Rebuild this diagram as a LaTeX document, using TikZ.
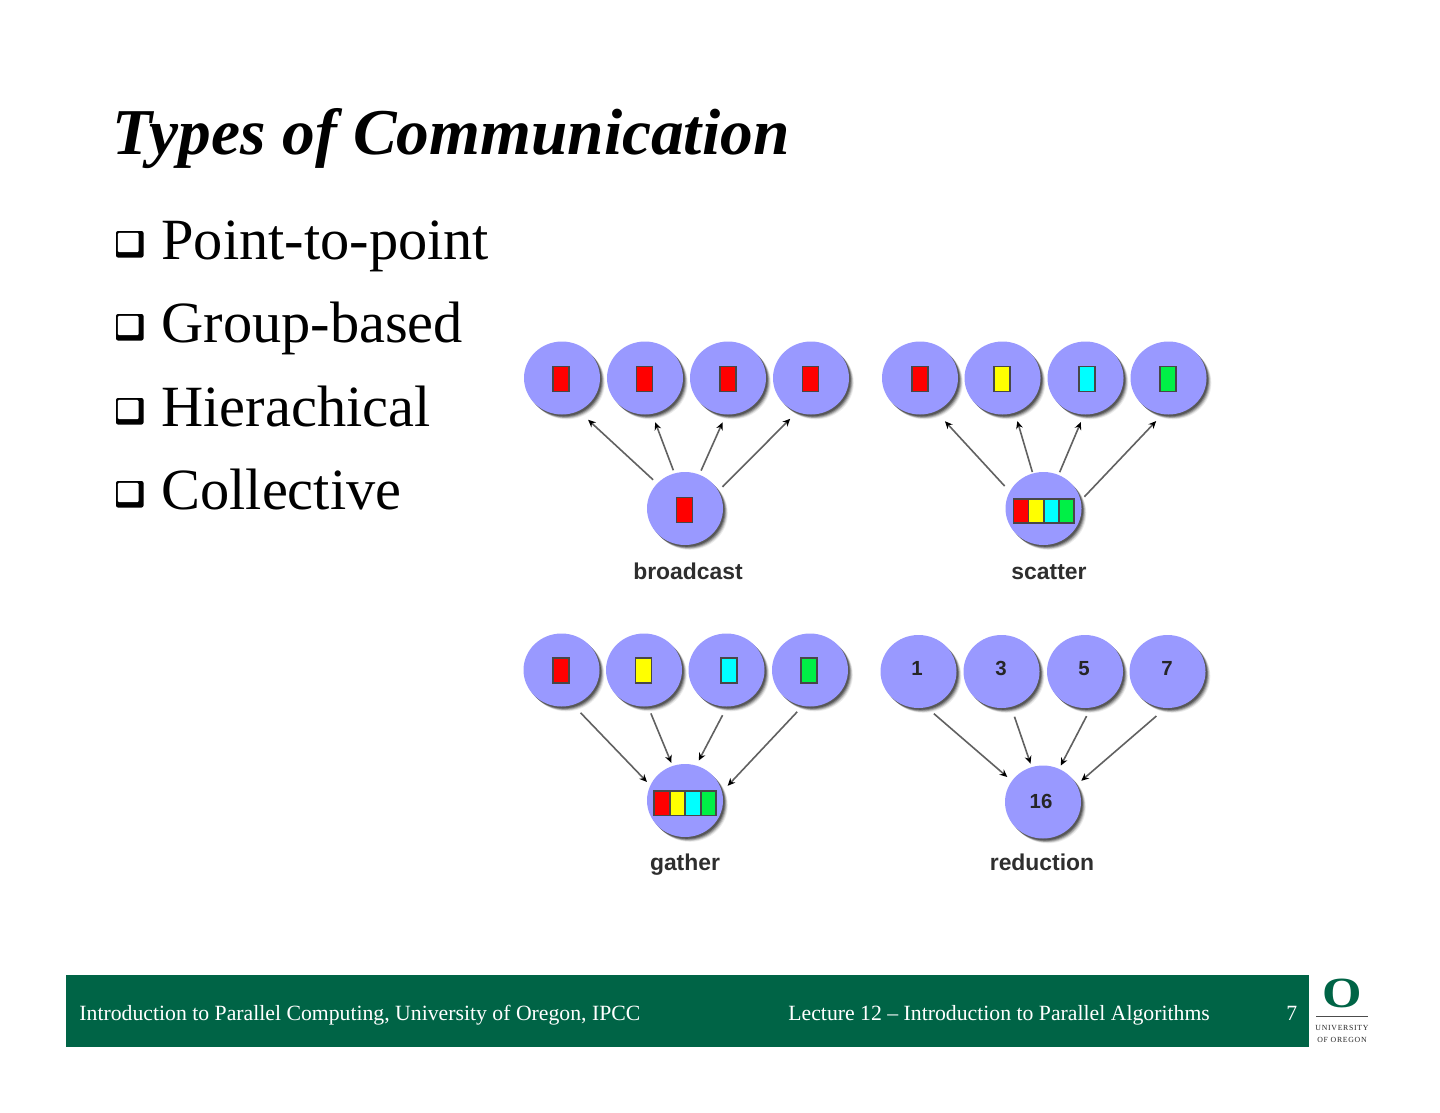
\documentclass[tikz,border=0pt]{standalone}
\usepackage{fontspec}
\setmainfont{Liberation Serif}
\newfontfamily\lblfont{Liberation Sans}[BoldFont={Liberation Sans Bold}]
\newfontfamily\logofont[LetterSpace=9]{Liberation Serif}
\usetikzlibrary{shapes.geometric,arrows.meta,calc,shadows}
\definecolor{uogreen}{RGB}{0,100,70}
\definecolor{ball}{RGB}{153,153,255}
\definecolor{cellgreen}{RGB}{0,240,70}
\definecolor{cellred}{RGB}{255,0,0}
\definecolor{cellyellow}{RGB}{255,255,0}
\definecolor{cellcyan}{RGB}{0,255,255}
\tikzset{
  ballnode/.style={ellipse,inner sep=0pt,minimum width=38pt,minimum height=36.5pt,fill=ball,
    drop shadow={shadow xshift=2.4pt,shadow yshift=-2.4pt,opacity=.08,fill=black},
    drop shadow={shadow xshift=2pt,shadow yshift=-2pt,opacity=.12,fill=black},
    drop shadow={shadow xshift=1.6pt,shadow yshift=-1.7pt,opacity=.18,fill=black},
    drop shadow={shadow xshift=1.2pt,shadow yshift=-1.3pt,opacity=.25,fill=black},
    drop shadow={shadow xshift=.8pt,shadow yshift=-.9pt,opacity=.3,fill=black}},
  cell/.style={rectangle,draw=black!72,line width=.85pt,inner sep=0pt,minimum width=8pt,minimum height=12.5pt},
  barcell/.style={cell,minimum width=7.6pt,minimum height=12.2pt},
  conn/.style={draw=black!62,line width=.8pt,-{Stealth[length=3.8pt,width=3.4pt,black]}},
  lbl/.style={font=\lblfont\bfseries\fontsize{11.45}{13}\selectfont,text=black!82,anchor=base,inner sep=0pt},
  digit/.style={font=\lblfont\bfseries\fontsize{10.2}{12}\selectfont,text=black!85,inner sep=0pt,anchor=base},
  titletxt/.style={font=\bfseries\itshape\fontsize{32.7}{36}\selectfont,anchor=base west,inner sep=0pt},
  bullettxt/.style={font=\fontsize{29.2}{34}\selectfont,anchor=base west,inner sep=0pt},
  foot/.style={font=\fontsize{10.87}{14}\selectfont,text=white,anchor=base west,inner sep=0pt},
  logotxt/.style={font=\logofont\fontsize{3.9}{5}\selectfont,text=black!85,inner sep=0pt},
}
\newcommand{\conn}[6]{\draw[conn] ($(#1)!#3!(#1.#2)$) -- ($(#4)!#6!(#4.#5)$);}
\begin{document}
\begin{tikzpicture}[x=.5pt,y=-.5pt]
\useasboundingbox (0,0) rectangle (1440,1113);
\fill[white] (0,0) rectangle (1440,1113);
% title and list
\node[titletxt] (title) at (112,155) {Types of Communication};
\foreach \yy/\nm/\tx in {259/b1/Point-to-point,342/b2/Group-based,426/b3/Hierachical,509/b4/Collective}{
  \fill[black,rounded corners=1pt] (116,\yy-28) rectangle (143.5,\yy-1.5);
  \fill[white,rounded corners=.6pt] (117.8,\yy-26.2) rectangle (138.5,\yy-6.8);
  \node[bullettxt] (\nm) at (161,\yy) {\tx};
}
% broadcast
\foreach \n/\x in {1/562,2/645,3/728,4/811}{\node[ballnode] (bt\n) at (\x,378) {};}
\node[ballnode] (bb) at (685,508.5) {};
\foreach \n/\x in {1/560.8,2/644.5,3/728,4/810.5}{\node[cell,fill=cellred] (bc\n) at (\x,379) {};}
\node[cell,fill=cellred] (bc) at (684.5,510) {};
\conn{bb}{138}{1.14}{bt1}{-58}{1.32}
\conn{bb}{107}{1.08}{bt2}{-77.5}{1.23}
\conn{bb}{67.4}{1.11}{bt3}{-97.6}{1.21}
\conn{bb}{30}{1.14}{bt4}{-117}{1.23}
\node[lbl] (blab) at (688,579) {broadcast};
% scatter
\foreach \n/\x in {1/920,2/1002.5,3/1085.5,4/1168.5}{\node[ballnode] (st\n) at (\x,378) {};}
\node[ballnode] (sb) at (1043.5,508.5) {};
\foreach \n/\x/\c in {1/919.7/cellred,2/1002.3/cellyellow,3/1087.3/cellcyan,4/1168/cellgreen}{\node[cell,fill=\c] (sc\n) at (\x,379) {};}
\foreach \n/\x/\c in {1/1021/cellred,2/1036.2/cellyellow,3/1051.4/cellcyan,4/1066.6/cellgreen}{\node[barcell,fill=\c] (sx\n) at (\x,511) {};}
\conn{sb}{150.8}{1.18}{st1}{-60}{1.34}
\conn{sb}{107.8}{1.03}{st2}{-71.3}{1.23}
\conn{sb}{66.8}{1.07}{st3}{-96}{1.20}
\conn{sb}{16.5}{1.11}{st4}{-106}{1.21}
\node[lbl] (slab) at (1049,579) {scatter};
% gather
\foreach \n/\x in {1/561.5,2/644,3/726.5,4/810}{\node[ballnode] (gt\n) at (\x,670) {};}
\node[ballnode] (gb) at (685,800.5) {};
\foreach \n/\x/\c in {1/560.7/cellred,2/643.5/cellyellow,3/728.7/cellcyan,4/809.3/cellgreen}{\node[cell,fill=\c] (gc\n) at (\x,670.8) {};}
\foreach \n/\x/\c in {1/661.8/cellred,2/677.3/cellyellow,3/692.8/cellcyan,4/708.3/cellgreen}{\node[barcell,fill=\c] (gx\n) at (\x,803.3) {};}
\conn{gt1}{-66}{1.26}{gb}{154.7}{1.11}
\conn{gt2}{-81.4}{1.19}{gb}{110.7}{1.08}
\conn{gt3}{-95}{1.23}{gb}{71.8}{1.14}
\conn{gt4}{-107.5}{1.18}{gb}{19.5}{1.18}
\node[lbl] (glab) at (685,870) {gather};
% reduction
\foreach \n/\x in {1/918.5,2/1001.5,3/1085,4/1167.5}{\node[ballnode] (rt\n) at (\x,671.5) {};}
\node[ballnode] (rb) at (1043,802) {};
\foreach \n/\x/\t in {1/917/1,2/1001/3,3/1084/5,4/1167/7}{\node[digit] (rd\n) at (\x,675.5) {\t};}
\node[digit] (rd) at (1041,808.5) {16};
\conn{rt1}{-70}{1.21}{rb}{145.8}{1.15}
\conn{rt2}{-74.4}{1.27}{rb}{108.6}{1.09}
\conn{rt3}{-88.7}{1.21}{rb}{64.4}{1.09}
\conn{rt4}{-104.3}{1.24}{rb}{29}{1.15}
\node[lbl] (rlab) at (1042,870) {reduction};
% footer
\fill[uogreen] (66,975) rectangle (1309,1047);
\node[foot] (f1) at (79,1020) {Introduction to Parallel Computing, University of Oregon, IPCC};
\node[foot] (f2) at (788,1020) {Lecture 12 – Introduction to Parallel Algorithms};
\node[foot] (f3) at (1286,1020) {7};
% logo
\node[inner sep=0pt,text=uogreen,font=\bfseries\fontsize{21.5}{24}\selectfont,xscale=1.18] (logoO) at (1342,993) {O};
\draw[black!70,line width=.5pt] (1316,1016.5) -- (1368,1016.5);
\node[logotxt] (l1) at (1342,1028) {UNIVERSITY};
\node[logotxt] (l2) at (1342,1040) {OF OREGON};
\end{tikzpicture}
\end{document}
